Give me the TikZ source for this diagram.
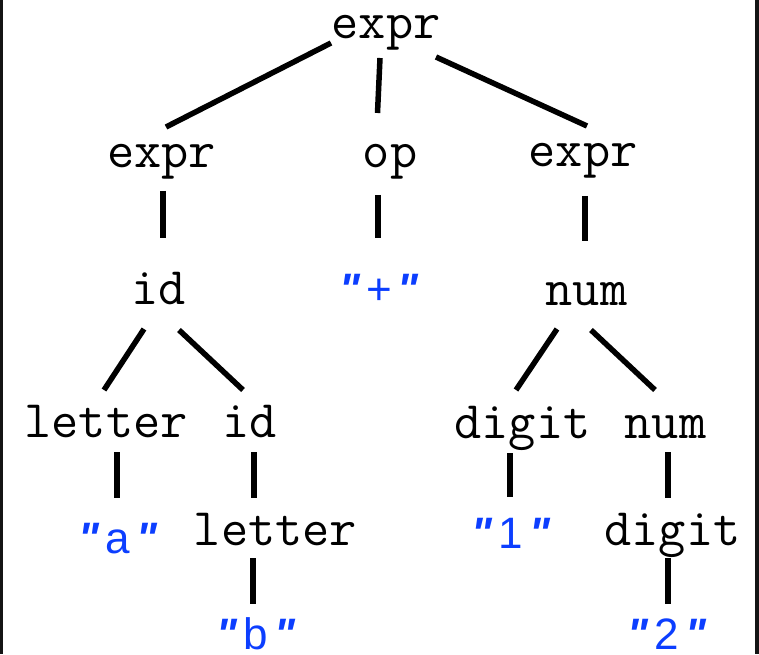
\documentclass[tikz,border=0pt]{standalone}
\usepackage{fontspec}
\usetikzlibrary{calc}
\newfontfamily\qfont[Ligatures=TeXOff]{Liberation Sans}
\definecolor{termblue}{RGB}{12,62,255}
\definecolor{frame}{RGB}{20,20,20}
% a quoted terminal: quote, symbol, quote in equal cells
\newcommand\quoted[1]{\makebox[29pt]{\bfseries\itshape"}\makebox[29pt]{#1}\makebox[29pt]{\bfseries\itshape"}}
% connector between two nodes, each end offset from the node's base point
\newcommand\treeedge[6]{\draw[branch] ($(#1.base)+(#2,#3)$) -- ($(#4.base)+(#5,#6)$);}
\begin{document}
\begin{tikzpicture}[x=1pt,y=1pt,
  nt/.style={inner sep=0pt,anchor=base,font=\ttfamily\fontsize{52.8}{60}\selectfont},
  term/.style={inner sep=0pt,anchor=base,text=termblue,font=\qfont\fontsize{44}{50}\selectfont},
  branch/.style={line width=5.5pt,black}]
\useasboundingbox (0,0) rectangle (759,654);
\fill[frame] (0,0) rectangle (2.5,654);
\fill[frame] (755,0) rectangle (759,654);

% nodes (base points)
\node[nt] (root)  at (386,615) {expr};
\node[nt] (exl)   at (161.5,486) {expr};
\node[nt] (op)    at (390,486) {op};
\node[nt] (exr)   at (583,487) {expr};
\node[nt] (id1)   at (158.5,350) {id};
\node[term] (plus) at (379,350) {\quoted{+}};
\node[nt] (num1)  at (586.5,349) {num};
\node[nt] (let1)  at (106,217) {letter};
\node[nt] (id2)   at (249.5,217) {id};
\node[nt] (dig1)  at (522.5,216) {digit};
\node[nt] (num2)  at (665.5,216) {num};
\node[term] (ta)  at (118,101) {\quoted{a}};
\node[nt] (let2)  at (275.5,109) {letter};
\node[term] (t1)  at (511,106) {\quoted{1}};
\node[nt] (dig2)  at (672.5,109) {digit};
\node[term] (tb)  at (256,5) {\quoted{b}};
\node[term] (t2)  at (667,5) {\quoted{2}};

% branches
\treeedge{root}{-55}{-4}{exl}{4.5}{41}
\treeedge{root}{-6}{-19}{op}{-12.5}{55}
\treeedge{root}{50}{-18}{exr}{4}{41}
\treeedge{exl}{1.5}{-23}{id1}{4.5}{66}
\treeedge{op}{-12}{-27}{plus}{-1}{66}
\treeedge{exr}{2}{-29}{num1}{-1.5}{64}
\treeedge{id1}{-14.5}{-25}{let1}{-2}{47}
\treeedge{id1}{20.5}{-26}{id2}{-6.5}{47}
\treeedge{num1}{-29.5}{-24}{dig1}{-6.5}{48}
\treeedge{num1}{4.5}{-25}{num2}{-10.5}{48}
\treeedge{let1}{11}{-15}{ta}{-1}{55}
\treeedge{id2}{4.5}{-15}{let2}{-21.5}{47}
\treeedge{dig1}{-12.5}{-15}{t1}{-1}{51}
\treeedge{num2}{2.5}{-14}{dig2}{-4.5}{47}
\treeedge{let2}{-22.5}{-13}{tb}{-3}{45}
\treeedge{dig2}{-4.5}{-13}{t2}{1}{45}
\end{tikzpicture}
\end{document}
